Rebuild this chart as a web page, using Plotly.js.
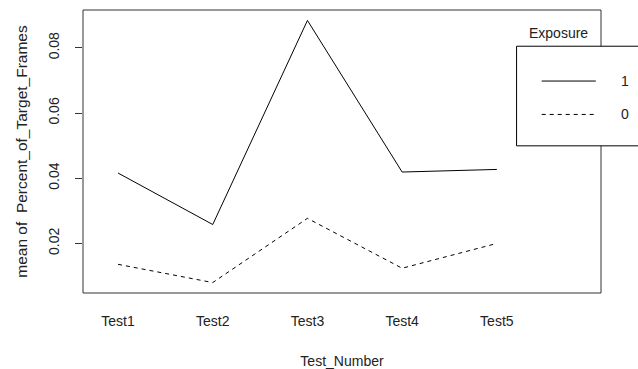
<!DOCTYPE html>
<html>
<head>
<meta charset="utf-8">
<script src="https://cdn.plot.ly/plotly-3.0.1.min.js"></script>
<style>html,body{margin:0;padding:0;background:#fff;}#chart{width:638px;height:369px;}</style>
</head>
<body>
<div id="chart"></div>
<script>
const categories = ["Test1", "Test2", "Test3", "Test4", "Test5"];
const seriesNames = ["1", "0"];
const exposure1 = [0.0416, 0.0258, 0.0884, 0.0419, 0.0427];
const exposure0 = [0.0136, 0.0080, 0.0277, 0.0124, 0.0200];
const yTickVals = [0.02, 0.04, 0.06, 0.08];
const yTickText = ["0.02", "0.04", "0.06", "0.08"];
const legendTitle = "Exposure";
const xTitle = "Test_Number";
const yTitle = "mean of  Percent_of_Target_Frames";

const FONT = "Liberation Sans, Arial, sans-serif";
const ink = "#000";

const traces = [
  {x: categories, y: exposure1, type: "scatter", mode: "lines", name: seriesNames[0],
   line: {color: ink, width: 1, dash: "solid"}, showlegend: false},
  {x: categories, y: exposure0, type: "scatter", mode: "lines", name: seriesNames[1],
   line: {color: ink, width: 1, dash: "4px,4px"}, showlegend: false}
];

// legend geometry (paper coords)
const lgX0 = 0.837, lgX1 = 1.3, lgY0 = 0.52, lgY1 = 0.872;
const lineX0 = 0.8855, lineX1 = 0.99, labelX = 1.046;
const rowY = [0.749, 0.631];

const shapes = [
  {type: "rect", xref: "paper", yref: "paper", x0: 0, x1: 1, y0: 0, y1: 1,
   line: {color: "#333", width: 1}, layer: "above"},
  {type: "rect", xref: "paper", yref: "paper", x0: lgX0, x1: lgX1, y0: lgY0, y1: lgY1,
   line: {color: ink, width: 1}, fillcolor: "#fff", layer: "above"},
  {type: "line", xref: "paper", yref: "paper", x0: lineX0, x1: lineX1, y0: rowY[0], y1: rowY[0],
   line: {color: ink, width: 1}, layer: "above"},
  {type: "line", xref: "paper", yref: "paper", x0: lineX0, x1: lineX1, y0: rowY[1], y1: rowY[1],
   line: {color: ink, width: 1, dash: "4px,4px"}, layer: "above"}
];

const annotations = [
  {xref: "paper", yref: "paper", x: 0.918, y: 0.917, text: legendTitle, showarrow: false,
   xanchor: "center", yanchor: "middle", font: {family: FONT, size: 14, color: "#222"}},
  {xref: "paper", yref: "paper", x: labelX, y: rowY[0], text: seriesNames[0], showarrow: false,
   xanchor: "center", yanchor: "middle", font: {family: FONT, size: 14, color: "#222"}},
  {xref: "paper", yref: "paper", x: labelX, y: rowY[1], text: seriesNames[1], showarrow: false,
   xanchor: "center", yanchor: "middle", font: {family: FONT, size: 14, color: "#222"}}
];

const layout = {
  width: 638, height: 369,
  margin: {l: 83, r: 37, t: 10, b: 76, pad: 0},
  paper_bgcolor: "#fff", plot_bgcolor: "#fff",
  font: {family: FONT, size: 14, color: "#222"},
  showlegend: false,
  xaxis: {
    type: "category", range: [-0.37, 5.1],
    showgrid: false, zeroline: false, showline: false,
    ticks: "", ticklabelstandoff: 18,
    tickfont: {family: FONT, size: 14, color: "#222"},
    title: {text: xTitle, standoff: 28, font: {family: FONT, size: 14, color: "#222"}},
    automargin: false, fixedrange: true
  },
  yaxis: {
    range: [0.0048, 0.0916],
    tickvals: yTickVals, ticktext: yTickText,
    showgrid: false, zeroline: false, showline: false,
    ticks: "outside", ticklen: 7, tickwidth: 1, tickcolor: "#333",
    tickangle: -90, ticklabelstandoff: 10,
    tickfont: {family: FONT, size: 14, color: "#222"},
    title: {text: yTitle, standoff: 14, font: {family: FONT, size: 15.5, color: "#222"}},
    automargin: false, fixedrange: true
  },
  shapes: shapes,
  annotations: annotations
};

Plotly.newPlot("chart", traces, layout, {staticPlot: true, displayModeBar: false});
</script>
</body>
</html>
